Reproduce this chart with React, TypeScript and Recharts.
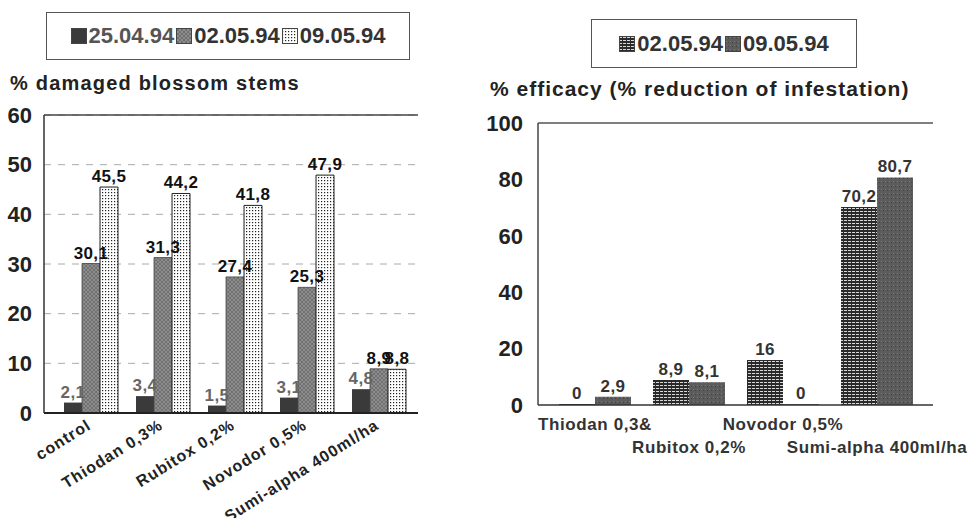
import React from 'react';
import { BarChart, Bar, XAxis, YAxis, CartesianGrid, ReferenceLine, LabelList } from 'recharts';

const leftCategories = ['control', 'Thiodan 0,3%', 'Rubitox 0,2%', 'Novodor 0,5%', 'Sumi-alpha 400ml/ha'];
const damaged2504 = [2.1, 3.4, 1.5, 3.1, 4.8];
const damaged0205 = [30.1, 31.3, 27.4, 25.3, 8.9];
const damaged0905 = [45.5, 44.2, 41.8, 47.9, 8.8];
const leftTicks = [0, 10, 20, 30, 40, 50, 60];

const rightCategories = ['Thiodan 0,3&', 'Rubitox 0,2%', 'Novodor 0,5%', 'Sumi-alpha 400ml/ha'];
const efficacy0205 = [0, 8.9, 16, 70.2];
const efficacy0905 = [2.9, 8.1, 0, 80.7];
const rightTicks = [0, 20, 40, 60, 80, 100];

const FONT = '"Liberation Sans", Arial, sans-serif';

const leftData = leftCategories.map((name, i) => ({
  name,
  d2504: damaged2504[i],
  d0205: damaged0205[i],
  d0905: damaged0905[i],
}));

const rightData = rightCategories.map((name, i) => ({
  name,
  e0205: efficacy0205[i],
  e0905: efficacy0905[i],
}));

const comma = (v: any) => String(v).replace('.', ',');

const Patterns = () => (
  <svg width={0} height={0} style={{ position: 'absolute' }}>
    <defs>
      <pattern id="crossGray" width={4} height={4} patternUnits="userSpaceOnUse">
        <rect width={4} height={4} fill="#8c8c8c" />
        <path d="M0 0L4 4M4 0L0 4" stroke="#6a6a6a" strokeWidth={0.8} />
      </pattern>
      <pattern id="dotsWhite" width={3} height={3} patternUnits="userSpaceOnUse">
        <rect width={3} height={3} fill="#ffffff" />
        <rect x={0} y={0} width={1.2} height={1.2} fill="#222" />
      </pattern>
      <pattern id="gridDark" width={4} height={3} patternUnits="userSpaceOnUse">
        <rect width={4} height={3} fill="#2a2a2a" />
        <rect x={0} y={1} width={3} height={1} fill="#d8d8d8" />
      </pattern>
      <pattern id="mottled" width={4} height={4} patternUnits="userSpaceOnUse">
        <rect width={4} height={4} fill="#5c5c5c" />
        <rect x={1} y={1} width={1} height={1} fill="#7a7a7a" />
        <rect x={3} y={2} width={1} height={1} fill="#444" />
      </pattern>
    </defs>
  </svg>
);

const RotatedTick = ({ x, y, payload }: any) => (
  <text
    x={x + 1}
    y={y + 7}
    transform={`rotate(-32 ${x + 1} ${y + 7})`}
    textAnchor="end"
    fontFamily={FONT}
    fontWeight="bold"
    fontSize={16}
    letterSpacing={1}
    fill="#222"
  >
    {payload.value}
  </text>
);

const StaggerTick = ({ x, y, payload, index }: any) => (
  <text
    x={x}
    y={y + (index % 2 === 0 ? 17 : 40)}
    textAnchor="middle"
    fontFamily={FONT}
    fontWeight="bold"
    fontSize={17}
    letterSpacing={0.6}
    fill="#333"
  >
    {payload.value}
  </text>
);

// value label that also shows zero values
const makeLabel = (fill: string) => (props: any) => {
  const { x, y, width, value } = props;
  if (value === undefined || value === null) return null;
  return (
    <text
      x={Number(x) + Number(width) / 2}
      y={Number(y) - 5}
      textAnchor="middle"
      fontFamily={FONT}
      fontWeight="bold"
      fontSize={17}
      letterSpacing={0.4}
      fill={fill}
    >
      {comma(value)}
    </text>
  );
};

const Swatch = ({ fill }: { fill: string }) => (
  <svg width={16} height={16} style={{ verticalAlign: '-1px', marginRight: 2 }}>
    <rect x={0.5} y={0.5} width={15} height={15} fill={fill} stroke="#444" />
  </svg>
);

const tickStyle = { fontFamily: FONT, fontWeight: 'bold', fontSize: 22, fill: '#222' };

export default function App() {
  return (
    <div style={{ position: 'absolute', left: 0, top: 0, width: 974, height: 518, background: '#fff', fontFamily: FONT }}>
      <Patterns />

      {/* left legend + title */}
      <div style={{ position: 'absolute', left: 46, top: 12, width: 364, height: 48, border: '1.5px solid #555', boxSizing: 'border-box', display: 'flex', alignItems: 'center', justifyContent: 'center', fontWeight: 'bold', fontSize: 22, color: '#333' }}>
        <Swatch fill="#3a3a3a" /><span style={{ color: '#555', marginRight: 2 }}>25.04.94</span>
        <Swatch fill="url(#crossGray)" /><span style={{ marginRight: 2 }}>02.05.94</span>
        <Swatch fill="url(#dotsWhite)" />09.05.94
      </div>
      <div style={{ position: 'absolute', left: 10, top: 72, fontWeight: 'bold', fontSize: 20, letterSpacing: 1.2, color: '#222' }}>
        % damaged blossom stems
      </div>

      <div style={{ position: 'absolute', left: 0, top: 0 }}>
        <BarChart width={480} height={518} data={leftData} margin={{ top: 115, right: 62, bottom: 0, left: 0 }} barGap={0} barSize={18}>
          <CartesianGrid vertical={false} strokeDasharray="7 7" stroke="#aaa" />
          <XAxis
            dataKey="name"
            height={105}
            tickLine={false}
            interval={0}
            tick={<RotatedTick />}
            axisLine={{ stroke: '#222', strokeWidth: 2 }}
            padding={{ left: 11, right: 3 }}
          />
          <YAxis
            width={44}
            domain={[0, 60]}
            ticks={leftTicks}
            tickLine={false}
            tickMargin={6}
            tick={tickStyle}
            axisLine={{ stroke: '#333', strokeWidth: 1.5 }}
          />
          <YAxis yAxisId="frame" orientation="right" width={0} tick={false} tickLine={false} axisLine={{ stroke: '#555', strokeWidth: 1.5 }} />
          <ReferenceLine y={60} stroke="#444" strokeWidth={1.5} />
          <Bar dataKey="d2504" fill="#3a3a3a" isAnimationActive={false}>
            <LabelList dataKey="d2504" content={makeLabel('#666')} />
          </Bar>
          <Bar dataKey="d0205" fill="url(#crossGray)" stroke="#444" strokeWidth={0.8} isAnimationActive={false}>
            <LabelList dataKey="d0205" content={makeLabel('#111')} />
          </Bar>
          <Bar dataKey="d0905" fill="url(#dotsWhite)" stroke="#222" strokeWidth={1} isAnimationActive={false}>
            <LabelList dataKey="d0905" content={makeLabel('#111')} />
          </Bar>
        </BarChart>
      </div>

      {/* right legend + title */}
      <div style={{ position: 'absolute', left: 591, top: 19, width: 266, height: 49, border: '1.5px solid #555', boxSizing: 'border-box', display: 'flex', alignItems: 'center', justifyContent: 'center', fontWeight: 'bold', fontSize: 22, color: '#333' }}>
        <Swatch fill="url(#gridDark)" /><span style={{ marginRight: 2 }}>02.05.94</span>
        <Swatch fill="url(#mottled)" />09.05.94
      </div>
      <div style={{ position: 'absolute', left: 490, top: 77, fontWeight: 'bold', fontSize: 21, letterSpacing: 1, color: '#222' }}>
        % efficacy (% reduction of infestation)
      </div>

      <div style={{ position: 'absolute', left: 480, top: 0 }}>
        <BarChart width={494} height={518} data={rightData} margin={{ top: 123, right: 41, bottom: 0, left: 0 }} barGap={0} barSize={36}>
          <XAxis
            dataKey="name"
            height={113}
            tickLine={false}
            interval={0}
            tick={<StaggerTick />}
            axisLine={{ stroke: '#333', strokeWidth: 1.5 }}
            padding={{ left: 10, right: 9 }}
          />
          <YAxis
            width={58}
            domain={[0, 100]}
            ticks={rightTicks}
            tickLine={false}
            tickMargin={9}
            tick={tickStyle}
            axisLine={{ stroke: '#444', strokeWidth: 1.5 }}
          />
          <YAxis yAxisId="frame" orientation="right" width={0} tick={false} tickLine={false} axisLine={{ stroke: '#555', strokeWidth: 1.5 }} />
          <ReferenceLine y={100} stroke="#555" strokeWidth={1.5} />
          <Bar dataKey="e0205" fill="url(#gridDark)" minPointSize={1} isAnimationActive={false}>
            <LabelList dataKey="e0205" content={makeLabel('#333')} />
          </Bar>
          <Bar dataKey="e0905" fill="url(#mottled)" minPointSize={1} isAnimationActive={false}>
            <LabelList dataKey="e0905" content={makeLabel('#333')} />
          </Bar>
        </BarChart>
      </div>
    </div>
  );
}
